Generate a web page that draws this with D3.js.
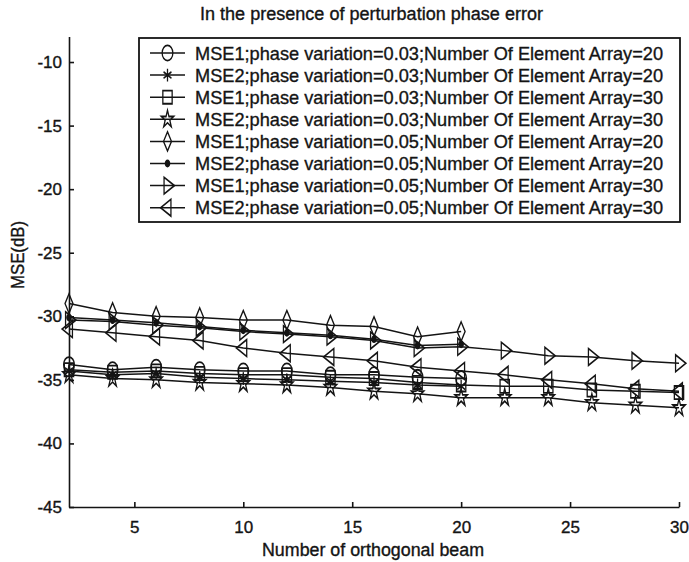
<!DOCTYPE html>
<html><head><meta charset="utf-8">
<script src="https://cdn.jsdelivr.net/npm/d3@7"></script>
<style>body{margin:0;background:#fff}svg{display:block}</style>
</head><body>
<svg id="c" width="689" height="562"></svg>
<script>
// ---------- data ----------
const beams20 = [2,4,6,8,10,12,14,16,18,20];
const beams30 = [2,4,6,8,10,12,14,16,18,20,22,24,26,28,30];
const mse1_p03_n20 = [-33.8,-34.2,-34.0,-34.2,-34.3,-34.3,-34.6,-34.6,-34.8,-34.9];
const mse2_p03_n20 = [-34.3,-34.6,-34.5,-34.8,-34.9,-35.0,-35.1,-35.2,-35.4,-35.5];
const mse1_p03_n30 = [-34.2,-34.4,-34.3,-34.5,-34.6,-34.6,-34.8,-34.9,-35.2,-35.4,-35.5,-35.5,-35.8,-35.9,-36.0];
const mse2_p03_n30 = [-34.6,-34.9,-35.0,-35.2,-35.3,-35.4,-35.6,-35.9,-36.1,-36.4,-36.4,-36.4,-36.8,-37.0,-37.2];
const mse1_p05_n20 = [-29.0,-29.7,-30.0,-30.1,-30.3,-30.3,-30.7,-30.8,-31.6,-31.2];
const mse2_p05_n20 = [-30.1,-30.3,-30.5,-30.8,-31.1,-31.3,-31.5,-31.8,-32.3,-32.2];
const mse1_p05_n30 = [-30.3,-30.4,-30.7,-30.9,-31.2,-31.4,-31.6,-31.9,-32.5,-32.4,-32.7,-33.1,-33.2,-33.5,-33.7];
const mse2_p05_n30 = [-31.0,-31.3,-31.6,-31.9,-32.5,-32.9,-33.2,-33.5,-34.0,-34.3,-34.6,-35.0,-35.3,-35.7,-35.9];
const seriesLabels = [
  "MSE1;phase variation=0.03;Number Of Element Array=20",
  "MSE2;phase variation=0.03;Number Of Element Array=20",
  "MSE1;phase variation=0.03;Number Of Element Array=30",
  "MSE2;phase variation=0.03;Number Of Element Array=30",
  "MSE1;phase variation=0.05;Number Of Element Array=20",
  "MSE2;phase variation=0.05;Number Of Element Array=20",
  "MSE1;phase variation=0.05;Number Of Element Array=30",
  "MSE2;phase variation=0.05;Number Of Element Array=30"
];
const xTicks = [5,10,15,20,25,30];
const yTicks = [-45,-40,-35,-30,-25,-20,-15,-10];
const titleText = "In the presence of perturbation phase error";
const xLabel = "Number of orthogonal beam";
const yLabel = "MSE(dB)";

const series = [
  {x: beams20, y: mse1_p03_n20, m: "circle"},
  {x: beams20, y: mse2_p03_n20, m: "asterisk"},
  {x: beams30, y: mse1_p03_n30, m: "square"},
  {x: beams30, y: mse2_p03_n30, m: "star"},
  {x: beams20, y: mse1_p05_n20, m: "diamond"},
  {x: beams20, y: mse2_p05_n20, m: "dot"},
  {x: beams30, y: mse1_p05_n30, m: "tright"},
  {x: beams30, y: mse2_p05_n30, m: "tleft"}
].map((s,i)=>({...s, label: seriesLabels[i]}));

// ---------- layout ----------
const svg = d3.select("#c");
const font = "'Liberation Sans Narrow', 'Liberation Sans', Arial, sans-serif";
const ink = "#141414";
const x = d3.scaleLinear().domain([2,30]).range([69,679]);
const y = d3.scaleLinear().domain([-45,-8]).range([507,36.6]);

const markerDefs = {
  circle:   {type: d3.symbolCircle,   size: 125, rot: 0, fill: "none"},
  asterisk: {type: d3.symbolAsterisk, size: 80,  rot: 0, fill: "none"},
  square:   {type: d3.symbolSquare,   size: 120, rot: 0, fill: "none"},
  star:     {type: d3.symbolStar,     size: 65,  rot: 0, fill: "none"},
  diamond:  {type: d3.symbolDiamond,  size: 75,  rot: 0, fill: "none"},
  dot:      {type: d3.symbolCircle,   size: 20,  rot: 0, fill: ink},
  tright:   {type: d3.symbolTriangle, size: 85,  rot: 90, fill: "none"},
  tleft:    {type: d3.symbolTriangle, size: 85,  rot: -90, fill: "none"}
};
function drawMarker(g, m, cx, cy){
  const d = markerDefs[m];
  g.append("path")
    .attr("d", d3.symbol().type(d.type).size(d.size)())
    .attr("transform", `translate(${cx},${cy}) scale(0.85,1.2) rotate(${d.rot})`)
    .attr("fill", d.fill).attr("stroke", ink).attr("stroke-width", 1.5);
}
function styleText(sel, size){
  return sel.attr("font-family",font).attr("font-size",size).attr("fill",ink)
     .attr("stroke",ink).attr("stroke-width",0.35);
}

// axes
const fmt = d => String(d);
const yAxis = d3.axisLeft(y).tickValues(yTicks).tickFormat(fmt).tickSize(-5).tickSizeOuter(0).tickPadding(7);
const xAxis = d3.axisBottom(x).tickValues(xTicks).tickFormat(fmt).tickSize(-5).tickSizeOuter(0).tickPadding(14);
const gy = svg.append("g").attr("transform","translate(69,0)").call(yAxis);
const gx = svg.append("g").attr("transform","translate(0,507)").call(xAxis);
[gx, gy].forEach(g=>{
  g.selectAll("path,line").attr("stroke",ink).attr("stroke-width",1.6);
  styleText(g.selectAll("text"), 17);
});

// lines + markers
const line = d3.line().x(d=>x(d[0])).y(d=>y(d[1]));
const plot = svg.append("g");
series.forEach(s=>{
  const pts = s.x.map((v,i)=>[v, s.y[i]]);
  plot.append("path").datum(pts).attr("d", line)
    .attr("fill","none").attr("stroke",ink).attr("stroke-width",1.5);
});
series.forEach(s=>{
  s.x.forEach((v,i)=> drawMarker(plot, s.m, x(v), y(s.y[i])));
});

// title & labels
styleText(svg.append("text").attr("x",371.5).attr("y",20).attr("text-anchor","middle"), 18)
  .attr("textLength",343).attr("lengthAdjust","spacingAndGlyphs").text(titleText);
styleText(svg.append("text").attr("x",373).attr("y",556).attr("text-anchor","middle"), 18)
  .attr("textLength",222).attr("lengthAdjust","spacingAndGlyphs").text(xLabel);
styleText(svg.append("text").attr("transform","translate(24,255) rotate(-90)").attr("text-anchor","middle"), 18)
  .attr("textLength",68).attr("lengthAdjust","spacingAndGlyphs").text(yLabel);

// legend
const lg = svg.append("g");
lg.append("rect").attr("x",139).attr("y",38).attr("width",541).attr("height",184)
  .attr("fill","#fff").attr("stroke",ink).attr("stroke-width",1.8);
series.forEach((s,i)=>{
  const ry = 53 + i*22.1;
  lg.append("line").attr("x1",150).attr("x2",185).attr("y1",ry).attr("y2",ry)
    .attr("stroke",ink).attr("stroke-width",1.5);
  drawMarker(lg, s.m, 167.5, ry);
  styleText(lg.append("text").attr("x",195).attr("y",ry+6.5), 19)
    .attr("textLength",468).attr("lengthAdjust","spacingAndGlyphs").text(s.label);
});
</script>
</body></html>
